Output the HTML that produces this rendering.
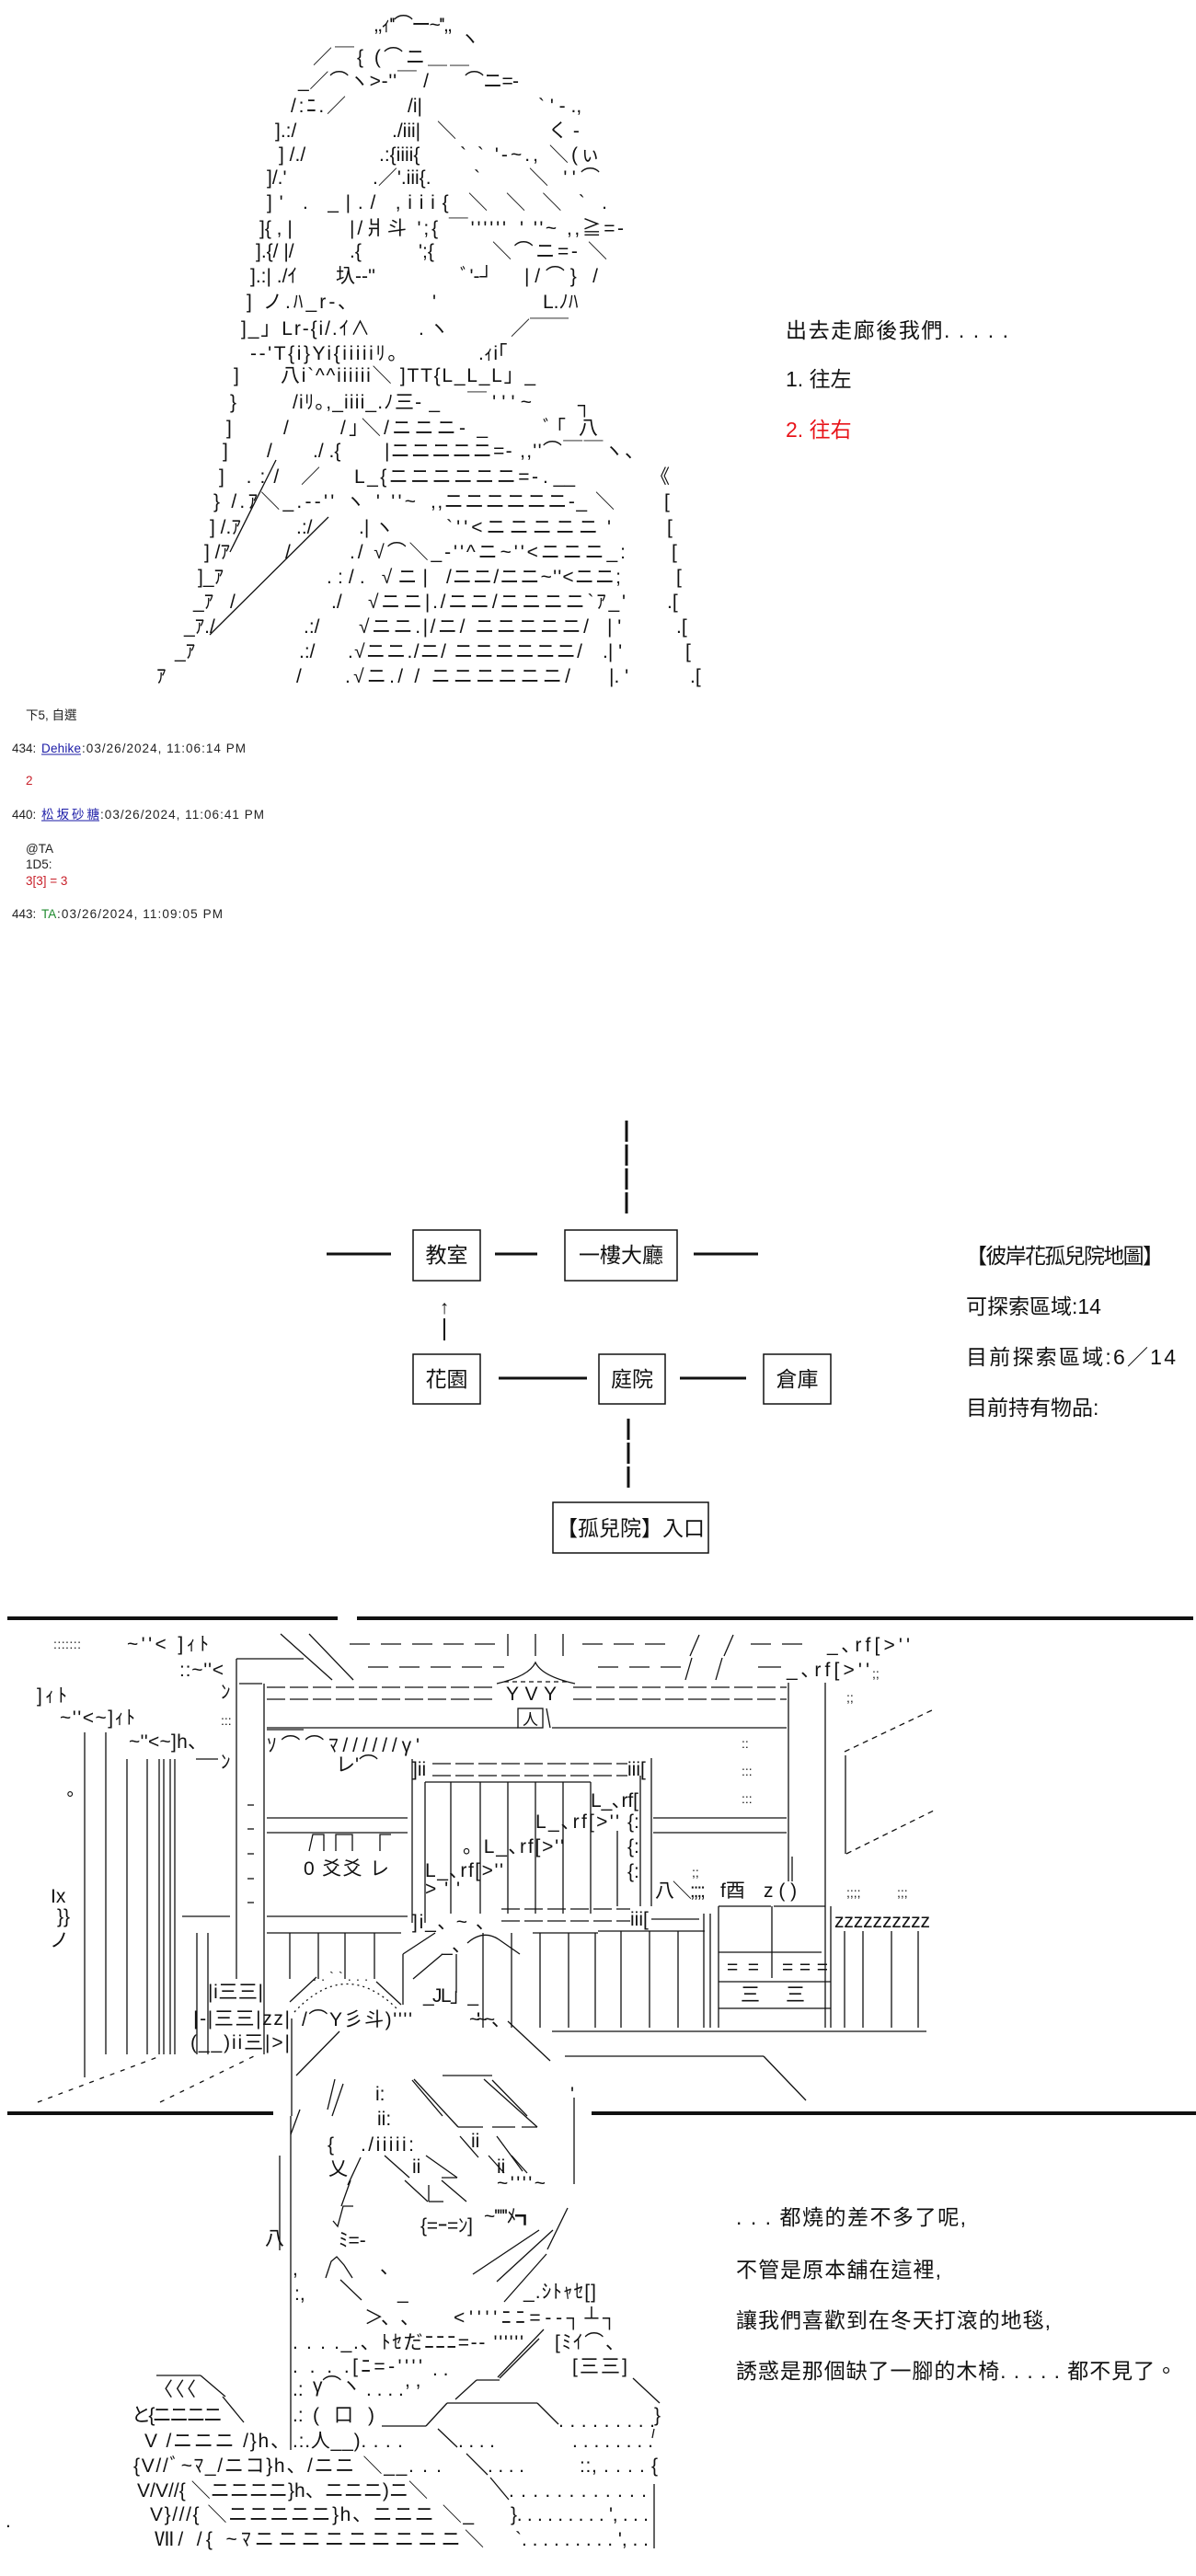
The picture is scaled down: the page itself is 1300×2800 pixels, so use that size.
<!DOCTYPE html>
<html><head><meta charset="utf-8">
<style>
html,body{margin:0;padding:0;background:#fff;}
body{width:1300px;height:2800px;position:relative;overflow:hidden;}
svg{position:absolute;left:0;top:0;}
.a{font-family:"Liberation Sans","Noto Sans CJK JP",sans-serif;font-size:21px;fill:#111;}
.s{font-family:"Liberation Sans","Noto Sans CJK JP",sans-serif;font-size:14px;fill:#111;}
.m{font-family:"Liberation Sans","Noto Sans CJK TC",sans-serif;font-size:23px;fill:#111;}
.f{font-family:"Liberation Sans","Noto Sans CJK TC",sans-serif;font-size:13.5px;fill:#222;}
.ln line,.ln polyline,.ln path,.ln rect{stroke:#111;stroke-width:1.3;fill:none;}
.dash{stroke-dasharray:20 5;}
.dot{stroke-dasharray:2 4;}
</style></head>
<body>
<svg width="1300" height="2800" viewBox="0 0 1300 2800" xmlns="http://www.w3.org/2000/svg">

<!-- ===================== SECTION 1 ART ===================== -->
<g class="a">
<text x="406" y="34" textLength="86">,,ｨ''⌒ー~'',,</text>
<text x="500" y="49">ヽ</text>
<text x="340" y="69" textLength="170">／￣{  (⌒ニ＿＿</text>
<text x="324" y="95" textLength="142">_／⌒ヽ>-''￣  /</text>
<text x="505" y="95" textLength="59">⌒ニ=-</text>
<text x="316" y="122" textLength="60">/:ﾆ.／</text>
<text x="443" y="122">/i|</text>
<text x="585" y="122">` ' ‐ .,</text>
<text x="299" y="149">].:/</text>
<text x="426" y="149">./iii|</text>
<text x="475" y="149">＼</text>
<text x="596" y="149">く   ‐</text>
<text x="303" y="175">]  /./</text>
<text x="412" y="175">.:{iiii{</text>
<text x="500" y="175" textLength="152">`    ` '‐~.,    ＼(ぃ</text>
<text x="290" y="200">]/.'</text>
<text x="405" y="200">.／'.iii{.</text>
<text x="515" y="200">`</text>
<text x="575" y="200" textLength="77">＼   ''⌒</text>
<text x="290" y="227" textLength="240">]'    .    _|./  ,iii{ ＼</text>
<text x="550" y="227" textLength="110">＼     ＼   ` .</text>
<text x="282" y="255">]{ , |</text>
<text x="380" y="255" textLength="170">|/爿斗 ';{ ￣''''''</text>
<text x="565" y="255" textLength="113">' ''~   ,,≧=-</text>
<text x="278" y="280">].{/ |/</text>
<text x="380" y="280">.{</text>
<text x="455" y="280">';{</text>
<text x="535" y="280" textLength="125">＼⌒ニ=-   ＼</text>
<text x="272" y="307">].:| ./ｲ</text>
<text x="365" y="307">圦-‐''</text>
<text x="500" y="307">ﾞ'‐┘</text>
<text x="570" y="307" textLength="80">|/⌒} /</text>
<text x="268" y="335" textLength="110">]   ノ.ﾊ_r‐､</text>
<text x="470" y="335">'</text>
<text x="590" y="335">L.ﾉﾊ</text>
<text x="262" y="364" textLength="140">]_」Lr‐{i/.ｲ∧</text>
<text x="455" y="364">.  ヽ</text>
<text x="555" y="364">／￣￣</text>
<text x="272" y="391" textLength="160">‐‐'T{i}Yi{iiiiiﾘ｡</text>
<text x="520" y="391">.ｨi｢</text>
<text x="254" y="415">]</text>
<text x="305" y="415" textLength="277">八i`^^iiiiii＼ ]TT{L_L_L」_</text>
<text x="250" y="444">}</text>
<text x="318" y="444" textLength="160">/iﾘ｡,_iiii_.ﾉ三-  _</text>
<text x="508" y="444" textLength="70">￣'''~</text>
<text x="628" y="447">┐</text>
<text x="246" y="472">]</text>
<text x="308" y="472">/</text>
<text x="370" y="472" textLength="160">/｣＼/ニニニ-  _</text>
<text x="590" y="472" textLength="60">ﾞ｢   八</text>
<text x="242" y="497">]</text>
<text x="290" y="497">/</text>
<text x="340" y="497">./ .{</text>
<text x="418" y="497" textLength="282">|ニニニニニ=-  ,,''⌒￣￣ヽ、</text>
<text x="238" y="525" textLength="110">]  .:/  ／</text>
<text x="385" y="525" textLength="200">L_{ニニニニニニ=-</text>
<text x="590" y="525">.  __</text>
<text x="707" y="525">《</text>
<text x="232" y="552" textLength="220">}  /.ｱ＼_.-‐''  ヽ ' ''~</text>
<text x="468" y="552" textLength="200">,,ニニニニニニ-_   ＼</text>
<text x="722" y="552">[</text>
<text x="228" y="580">]  /.ｱ</text>
<text x="322" y="580">.:/</text>
<text x="390" y="580">.|  ヽ</text>
<text x="485" y="580" textLength="165">`''&lt;ニニニニニ</text>
<text x="660" y="580">'</text>
<text x="725" y="580">[</text>
<text x="222" y="607">] /ｱ</text>
<text x="310" y="607">/</text>
<text x="380" y="607" textLength="300">./ √⌒＼_-''^ニ~''&lt;ニニニ_:</text>
<text x="730" y="607">[</text>
<text x="215" y="634">]_ｱ</text>
<text x="355" y="634" textLength="110">.:/. √ニ|</text>
<text x="485" y="634" textLength="190">/ニニ/ニニ~''&lt;ニニ;</text>
<text x="735" y="634">[</text>
<text x="210" y="661">_ｱ</text>
<text x="250" y="661">/</text>
<text x="360" y="661">./</text>
<text x="400" y="661" textLength="280">√ニニ|./ニニ/ニニニニ`ｱ_'</text>
<text x="725" y="661">.[</text>
<text x="200" y="688">_ｱ./</text>
<text x="330" y="688">.:/</text>
<text x="390" y="688" textLength="250">√ニニ.|/ニ/ ニニニニニ/</text>
<text x="660" y="688">| '</text>
<text x="735" y="688">.[</text>
<text x="190" y="715">_ｱ</text>
<text x="325" y="715">.:/</text>
<text x="378" y="715" textLength="255">.√ニニ./ニ/ ニニニニニニ/</text>
<text x="655" y="715">.| '</text>
<text x="745" y="715">[</text>
<text x="170" y="742">ｱ</text>
<text x="322" y="742">/</text>
<text x="375" y="742" textLength="245">.√ニ./ / ニニニニニニ/</text>
<text x="662" y="742">|.  '</text>
<text x="750" y="742">.[</text>
</g>
<g class="ln">
<line x1="357" y1="562" x2="228" y2="690"/>
<line x1="300" y1="500" x2="250" y2="600"/>
</g>

<!-- Section 1 text -->
<text class="m" x="854" y="367" textLength="242">出去走廊後我們. . . . .</text>
<text class="m" x="854" y="420">1. 往左</text>
<text class="m" x="854" y="475" style="fill:#e8141a">2. 往右</text>

<!-- Forum text -->
<text class="f" x="28" y="782">下5, 自選</text>
<text class="f" x="13" y="818">434:</text>
<text class="f" x="45" y="818" style="fill:#1a1aa6" textLength="43">Dehike</text>
<line x1="45" y1="820" x2="88" y2="820" stroke="#1a1aa6" stroke-width="1"/>
<text class="f" x="89" y="818" textLength="178">:03/26/2024, 11:06:14 PM</text>
<text class="f" x="28" y="853" style="fill:#c8202a">2</text>
<text class="f" x="13" y="890">440:</text>
<text class="f" x="45" y="890" style="fill:#1a1aa6" textLength="63">松坂砂糖</text>
<line x1="45" y1="892" x2="108" y2="892" stroke="#1a1aa6" stroke-width="1"/>
<text class="f" x="109" y="890" textLength="178">:03/26/2024, 11:06:41 PM</text>
<text class="f" x="28" y="927">@TA</text>
<text class="f" x="28" y="944">1D5:</text>
<text class="f" x="28" y="962" style="fill:#c8202a">3[3] = 3</text>
<text class="f" x="13" y="998">443:</text>
<text class="f" x="45" y="998" style="fill:#1e8a2e">TA</text>
<text class="f" x="62" y="998" textLength="180">:03/26/2024, 11:09:05 PM</text>

<!-- ===================== MAP ===================== -->
<g stroke="#111" stroke-width="3" fill="none">
<line x1="681" y1="1218" x2="681" y2="1322" stroke-dasharray="23 3"/>
<line x1="355" y1="1363" x2="425" y2="1363"/>
<line x1="538" y1="1363" x2="584" y2="1363"/>
<line x1="754" y1="1363" x2="824" y2="1363"/>
<line x1="542" y1="1498" x2="638" y2="1498"/>
<line x1="739" y1="1498" x2="811" y2="1498"/>
<line x1="683" y1="1542" x2="683" y2="1619" stroke-dasharray="23 3"/>
</g>
<line x1="483" y1="1433" x2="483" y2="1457" stroke="#111" stroke-width="2"/>
<text class="a" x="483" y="1428" text-anchor="middle">↑</text>
<g stroke="#111" stroke-width="1.5" fill="none">
<rect x="449" y="1337" width="73" height="55"/>
<rect x="614" y="1337" width="122" height="55"/>
<rect x="449" y="1472" width="73" height="54"/>
<rect x="651" y="1472" width="72" height="54"/>
<rect x="830" y="1472" width="73" height="54"/>
<rect x="601" y="1633" width="169" height="55"/>
</g>
<g class="m" text-anchor="middle">
<text x="485.5" y="1372">教室</text>
<text x="675" y="1372">一樓大廳</text>
<text x="485.5" y="1507">花園</text>
<text x="687" y="1507">庭院</text>
<text x="866.5" y="1507">倉庫</text>
<text x="685.5" y="1669">【孤兒院】入口</text>
</g>
<text class="m" x="1050" y="1373" textLength="215">【彼岸花孤兒院地圖】</text>
<text class="m" x="1050" y="1428">可探索區域:14</text>
<text class="m" x="1050" y="1483" textLength="228">目前探索區域:6／14</text>
<text class="m" x="1050" y="1538">目前持有物品:</text>

<!-- ===================== SECTION 3 ===================== -->
<g fill="#111">
<rect x="8" y="1757" width="359" height="4"/>
<rect x="388" y="1757" width="909" height="4"/>
<rect x="8" y="2295" width="289" height="4"/>
<rect x="643" y="2295" width="657" height="4"/>
</g>
<g class="ln">
<line x1="305" y1="1776" x2="361" y2="1826"/>
<line x1="336" y1="1776" x2="384" y2="1826"/>
<line x1="380" y1="1787" x2="547" y2="1787" stroke-dasharray="22 12"/>
<line x1="552" y1="1776" x2="552" y2="1800"/>
<line x1="582" y1="1776" x2="582" y2="1800"/>
<line x1="612" y1="1776" x2="612" y2="1800"/>
<line x1="633" y1="1787" x2="735" y2="1787" stroke-dasharray="22 12"/>
<line x1="760" y1="1777" x2="750" y2="1800"/>
<line x1="797" y1="1777" x2="787" y2="1800"/>
<line x1="816" y1="1787" x2="882" y2="1787" stroke-dasharray="22 12"/>
<line x1="400" y1="1812" x2="548" y2="1812" stroke-dasharray="22 12"/>
<line x1="650" y1="1812" x2="745" y2="1812" stroke-dasharray="22 12"/>
<line x1="752" y1="1802" x2="745" y2="1826"/>
<line x1="785" y1="1802" x2="778" y2="1826"/>
<line x1="824" y1="1812" x2="849" y2="1812"/>
<path d="M540 1830 Q575 1822 582 1807 Q589 1822 625 1830"/>
<line x1="548" y1="1828" x2="620" y2="1828" stroke-dasharray="5 4"/>
<line x1="257" y1="1803" x2="330" y2="1803"/>
<line x1="257" y1="1803" x2="257" y2="2151"/>
<line x1="287" y1="1830" x2="287" y2="2233"/>
<line x1="260" y1="1830" x2="285" y2="1830"/>
<line x1="290" y1="1834" x2="535" y2="1834" class="dash"/>
<line x1="290" y1="1847" x2="535" y2="1847" class="dash"/>
<line x1="623" y1="1834" x2="855" y2="1834" class="dash"/>
<line x1="623" y1="1847" x2="855" y2="1847" class="dash"/>
<line x1="290" y1="1878" x2="563" y2="1878"/>
<line x1="600" y1="1878" x2="855" y2="1878"/>
<rect x="563" y="1857" width="27" height="21"/>
<line x1="594" y1="1857" x2="598" y2="1878"/>
<line x1="92" y1="1883" x2="92" y2="2258"/>
<line x1="115" y1="1883" x2="115" y2="2233"/>
<line x1="138" y1="1912" x2="138" y2="2233"/>
<line x1="160" y1="1912" x2="160" y2="2233"/>
<line x1="173" y1="1912" x2="173" y2="2233"/>
<line x1="178" y1="1912" x2="178" y2="2233"/>
<line x1="185" y1="1912" x2="185" y2="2233"/>
<line x1="190" y1="1912" x2="190" y2="2233"/>
<line x1="213" y1="1912" x2="237" y2="1912"/>
<line x1="198" y1="2083" x2="250" y2="2083"/>
<line x1="214" y1="2101" x2="214" y2="2233"/>
<line x1="226" y1="2101" x2="226" y2="2233"/>
<line x1="269" y1="1962" x2="276" y2="1962"/>
<line x1="269" y1="1988" x2="276" y2="1988"/>
<line x1="269" y1="2015" x2="276" y2="2015"/>
<line x1="269" y1="2042" x2="276" y2="2042"/>
<line x1="269" y1="2068" x2="276" y2="2068"/>
<line x1="290" y1="1880" x2="330" y2="1880"/>
<line x1="290" y1="1976" x2="443" y2="1976"/>
<line x1="290" y1="1992" x2="443" y2="1992"/>
<line x1="290" y1="2083" x2="443" y2="2083"/>
<line x1="290" y1="2101" x2="436" y2="2101"/>
<line x1="315" y1="2101" x2="315" y2="2151"/>
<line x1="346" y1="2101" x2="346" y2="2151"/>
<line x1="375" y1="2101" x2="375" y2="2151"/>
<line x1="407" y1="2101" x2="407" y2="2151"/>
<polyline points="336,2012 340,1994 352,1994 352,2012"/>
<polyline points="365,2012 365,1994 383,1994 383,2012"/>
<polyline points="413,2012 413,1994 425,1994"/>
<line x1="448" y1="1912" x2="448" y2="2090"/>
<line x1="462" y1="1937" x2="462" y2="2090"/>
<line x1="470" y1="1917" x2="682" y2="1917" class="dash"/>
<line x1="470" y1="1930" x2="682" y2="1930" class="dash"/>
<line x1="462" y1="1937" x2="642" y2="1937"/>
<line x1="490" y1="1937" x2="490" y2="2080"/>
<line x1="522" y1="1937" x2="522" y2="2080"/>
<line x1="552" y1="1937" x2="552" y2="2080"/>
<line x1="582" y1="1937" x2="582" y2="2080"/>
<line x1="612" y1="1937" x2="612" y2="2080"/>
<line x1="642" y1="1937" x2="642" y2="2080"/>
<line x1="671" y1="1990" x2="671" y2="2072"/>
<line x1="696" y1="1930" x2="696" y2="2072"/>
<line x1="708" y1="1911" x2="708" y2="2072"/>
<line x1="710" y1="1976" x2="855" y2="1976"/>
<line x1="710" y1="1992" x2="855" y2="1992"/>
<line x1="545" y1="2075" x2="685" y2="2075" class="dash"/>
<line x1="545" y1="2088" x2="685" y2="2088" class="dash"/>
<line x1="857" y1="1829" x2="857" y2="2045"/>
<line x1="861" y1="2018" x2="861" y2="2045"/>
<line x1="897" y1="1829" x2="897" y2="2204"/>
<line x1="903" y1="2072" x2="903" y2="2204"/>
<line x1="919" y1="1908" x2="919" y2="2015"/>
<line x1="918" y1="1904" x2="1015" y2="1858" stroke-dasharray="6 5"/>
<line x1="920" y1="2015" x2="1017" y2="1967" stroke-dasharray="6 5"/>
<line x1="708" y1="2086" x2="760" y2="2086"/>
<line x1="765" y1="2080" x2="765" y2="2204"/>
<line x1="772" y1="2080" x2="772" y2="2204"/>
<line x1="781" y1="2072" x2="781" y2="2204"/>
<line x1="781" y1="2072" x2="838" y2="2072"/>
<line x1="841" y1="2072" x2="897" y2="2072"/>
<line x1="839" y1="2072" x2="839" y2="2150"/>
<line x1="781" y1="2122" x2="893" y2="2122"/>
<line x1="781" y1="2154" x2="903" y2="2154"/>
<line x1="781" y1="2183" x2="903" y2="2183"/>
<line x1="650" y1="2099" x2="766" y2="2099"/>
<line x1="675" y1="2099" x2="675" y2="2204"/>
<line x1="706" y1="2099" x2="706" y2="2204"/>
<line x1="737" y1="2099" x2="737" y2="2204"/>
<line x1="918" y1="2099" x2="918" y2="2204"/>
<line x1="938" y1="2099" x2="938" y2="2204"/>
<line x1="969" y1="2099" x2="969" y2="2204"/>
<line x1="998" y1="2099" x2="998" y2="2204"/>
<line x1="579" y1="2101" x2="650" y2="2101"/>
<line x1="496" y1="2124" x2="496" y2="2166"/>
<line x1="525" y1="2101" x2="525" y2="2204"/>
<line x1="556" y1="2101" x2="556" y2="2204"/>
<line x1="587" y1="2101" x2="587" y2="2204"/>
<line x1="618" y1="2101" x2="618" y2="2204"/>
<line x1="647" y1="2101" x2="647" y2="2204"/>
<line x1="600" y1="2208" x2="1007" y2="2208"/>
<line x1="614" y1="2235" x2="830" y2="2235"/>
<line x1="830" y1="2235" x2="876" y2="2283"/>
<line x1="473" y1="2101" x2="438" y2="2124"/>
<line x1="438" y1="2124" x2="438" y2="2179"/>
<line x1="481" y1="2124" x2="449" y2="2151"/>
<path d="M508 2112 Q525 2097 542 2108 L565 2124"/>
<path d="M320 2187 Q375 2128 431 2183" class="dot"/>
<line x1="344" y1="2149" x2="315" y2="2176"/>
<line x1="409" y1="2154" x2="436" y2="2179"/>
<line x1="317" y1="2194" x2="317" y2="2300"/>
<line x1="369" y1="2208" x2="322" y2="2256"/>
<line x1="552" y1="2197" x2="598" y2="2240"/>
<line x1="481" y1="2256" x2="535" y2="2256"/>
<line x1="448" y1="2261" x2="481" y2="2300"/>
<line x1="535" y1="2261" x2="573" y2="2300"/>
<line x1="373" y1="2265" x2="361" y2="2300"/>
<line x1="41" y1="2285" x2="174" y2="2235" stroke-dasharray="5 7"/>
<line x1="174" y1="2285" x2="276" y2="2235" stroke-dasharray="5 7"/>
</g>
<g class="a">
<text class="s" x="58" y="1792" textLength="30">:::::::</text>
<text x="138" y="1794" textLength="89">~''&lt;  ]ｨﾄ</text>
<text x="195" y="1822" textLength="48">::~''&lt;</text>
<text x="40" y="1850" textLength="33">]ｨﾄ</text>
<text x="65" y="1874" textLength="82">~''&lt;~]ｨﾄ</text>
<text x="140" y="1900" textLength="85">~''&lt;~]h、</text>
<text x="240" y="1846">ﾝ</text>
<text class="s" x="240" y="1875">:::</text>
<text x="240" y="1922">ﾝ</text>
<text x="72" y="1962">°</text>
<text x="55" y="2068">Ix</text>
<text x="62" y="2090">}}</text>
<text x="54" y="2116">ノ</text>
<text x="550" y="1848" textLength="55">YVY</text>
<text x="568" y="1875" style="font-size:17px">人</text>
<text x="290" y="1904" textLength="166">ｿ⌒⌒ﾏ//////γ'</text>
<text x="365" y="1925">レ'⌒</text>
<text x="330" y="2038" textLength="93">0 爻爻 レ</text>
<text x="448" y="1930">]ii</text>
<text x="682" y="1930">iii[</text>
<text x="642" y="1964" textLength="52">L_､rf[</text>
<text x="582" y="1987" textLength="91">L_､rf[>''</text>
<text x="682" y="1987">{:</text>
<text x="682" y="2014">{:</text>
<text x="682" y="2041">{:</text>
<text x="503" y="2014" textLength="110">。L_､rf[>''</text>
<text x="462" y="2040" textLength="85">L_､rf[>''</text>
<text x="462" y="2060" textLength="38">>''</text>
<text x="899" y="1795" textLength="90">_､rf[>''</text>
<text x="855" y="1822" textLength="90">_､rf[>''</text>
<text class="s" x="948" y="1824">;;</text>
<text class="s" x="920" y="1850">;;</text>
<text class="s" x="806" y="1900">::</text>
<text class="s" x="806" y="1930">:::</text>
<text class="s" x="806" y="1960">:::</text>
<text x="448" y="2096" textLength="80">]i_､ ~  ､</text>
<text x="685" y="2093">iii[</text>
<text class="s" x="752" y="2040">;;</text>
<text x="712" y="2062" textLength="55">八＼;;;;</text>
<text x="783" y="2062">f酉</text>
<text x="830" y="2062">z ( )</text>
<text class="s" x="920" y="2062">;;;;</text>
<text class="s" x="975" y="2062">;;;</text>
<text x="907" y="2095" textLength="104">zzzzzzzzzz</text>
<text x="790" y="2145" textLength="35">= =</text>
<text x="850" y="2145" textLength="50">= = =</text>
<text x="805" y="2175" textLength="70">三   三</text>
<text x="480" y="2121">_､</text>
<text x="460" y="2176" textLength="60">_JL」_</text>
<text x="226" y="2172" textLength="60">|i三三|</text>
<text x="210" y="2201" textLength="105">|-|三三|zz|</text>
<text x="207" y="2227" textLength="108">(__)ii三|>|</text>
<text x="328" y="2202" textLength="120">/⌒Y彡斗)''''</text>
<text x="510" y="2202" textLength="45">~''~~、</text>
<text x="340" y="2153" textLength="60" class="s">. . ` ` . . .</text>
<text x="408" y="2283">i:</text>
<text x="620" y="2283">'</text>
</g>

<!-- ===================== SECTION 4 ===================== -->
<g class="ln">
<line x1="316" y1="2300" x2="316" y2="2663"/>
<line x1="304" y1="2343" x2="304" y2="2446"/>
<line x1="364" y1="2260" x2="356" y2="2293"/>
<line x1="326" y1="2293" x2="316" y2="2320"/>
<line x1="450" y1="2260" x2="498" y2="2312"/>
<line x1="526" y1="2260" x2="584" y2="2312"/>
<line x1="498" y1="2312" x2="525" y2="2312"/>
<line x1="535" y1="2312" x2="560" y2="2312"/>
<line x1="567" y1="2312" x2="584" y2="2312"/>
<line x1="624" y1="2280" x2="624" y2="2374"/>
<line x1="500" y1="2322" x2="520" y2="2345"/>
<line x1="540" y1="2322" x2="568" y2="2360"/>
<line x1="392" y1="2345" x2="378" y2="2375"/>
<line x1="418" y1="2343" x2="445" y2="2367"/>
<line x1="463" y1="2343" x2="497" y2="2367"/>
<line x1="480" y1="2367" x2="497" y2="2367"/>
<line x1="531" y1="2343" x2="548" y2="2362"/>
<line x1="556" y1="2343" x2="573" y2="2362"/>
<line x1="381" y1="2370" x2="371" y2="2398"/>
<line x1="440" y1="2370" x2="465" y2="2393"/>
<line x1="466" y1="2375" x2="466" y2="2393"/>
<line x1="466" y1="2393" x2="482" y2="2393"/>
<line x1="480" y1="2370" x2="507" y2="2393"/>
<polyline points="362,2414 367,2420 373,2398 384,2398"/>
<line x1="586" y1="2424" x2="514" y2="2472"/>
<line x1="601" y1="2424" x2="540" y2="2480"/>
<line x1="617" y1="2400" x2="595" y2="2445"/>
<line x1="594" y1="2450" x2="548" y2="2502"/>
<path d="M354 2476 L360 2458 L366 2453 L374 2462 L383 2476"/>
<line x1="370" y1="2478" x2="393" y2="2500"/>
<line x1="591" y1="2532" x2="541" y2="2584"/>
<line x1="170" y1="2582" x2="218" y2="2582"/>
<line x1="218" y1="2582" x2="245" y2="2605"/>
<line x1="242" y1="2605" x2="265" y2="2633"/>
<line x1="543" y1="2585" x2="586" y2="2542"/>
<line x1="495" y1="2608" x2="518" y2="2587"/>
<line x1="518" y1="2587" x2="543" y2="2587"/>
<line x1="415" y1="2637" x2="463" y2="2637"/>
<line x1="463" y1="2637" x2="486" y2="2612"/>
<line x1="486" y1="2612" x2="584" y2="2612"/>
<line x1="584" y1="2612" x2="607" y2="2635"/>
<line x1="688" y1="2585" x2="717" y2="2612"/>
<line x1="476" y1="2640" x2="497" y2="2660"/>
<line x1="507" y1="2667" x2="530" y2="2690"/>
<line x1="533" y1="2693" x2="553" y2="2717"/>
<line x1="711" y1="2700" x2="711" y2="2770"/>
<line x1="711" y1="2640" x2="709" y2="2650"/>
</g>
<g class="a">
<text x="288" y="2440">八</text>
<text x="410" y="2310">ii:</text>
<text x="356" y="2338">{</text>
<text x="392" y="2338" textLength="58">./iiiii:</text>
<text x="512" y="2334">ii</text>
<text x="357" y="2364">乂</text>
<text x="448" y="2362">ii</text>
<text x="540" y="2362">ii</text>
<text x="540" y="2380" textLength="53">~''''~</text>
<text x="368" y="2442">ﾐ=-</text>
<text x="457" y="2426" textLength="57">{=ｰ=ﾝ]</text>
<text x="526" y="2416" textLength="55">~'''''ﾒ┓</text>
<text x="318" y="2473">,</text>
<text x="413" y="2471">、</text>
<text x="320" y="2500">:,</text>
<text x="432" y="2499">_</text>
<text x="569" y="2498" textLength="79">_.ｼﾄｬｾ[]</text>
<text x="396" y="2526" textLength="60">＞、 、</text>
<text x="493" y="2526" textLength="177">&lt;''''ﾆﾆ=--┐┴┐</text>
<text x="318" y="2553" textLength="251">. . . ._.、ﾄｾだﾆﾆﾆ=-- ''''''</text>
<text x="603" y="2553" textLength="76">[ﾐｲ⌒、</text>
<text x="318" y="2579" textLength="141">. . . .[ﾆ=-''''</text>
<text x="470" y="2582">. .</text>
<text x="622" y="2579" textLength="60">[三三]</text>
<text x="167" y="2604" textLength="46">〈〈〈</text>
<text x="318" y="2604">.:</text>
<text x="340" y="2600" textLength="52">γ⌒ヽ</text>
<text x="398" y="2604">. . . .</text>
<text x="440" y="2594">, ,</text>
<text x="143" y="2632" textLength="99">と{ニニニニ</text>
<text x="318" y="2632">.:</text>
<text x="340" y="2632" textLength="67">(口)</text>
<text x="607" y="2638" textLength="105">. . . . . . . . .</text>
<text x="711" y="2632">}</text>
<text x="157" y="2660" textLength="158">V /ニニニ /}h、</text>
<text x="318" y="2660" textLength="120">.:.人__). . . .</text>
<text x="498" y="2660" textLength="40">. . . .</text>
<text x="622" y="2660" textLength="88">. . . . . . . .</text>
<text x="145" y="2687" textLength="335">{V//ﾞ~ﾏ_/ニコ}h、/ニニ ＼__. . .</text>
<text x="530" y="2687" textLength="40">. . . .</text>
<text x="630" y="2687" textLength="85">::, . . . .   {</text>
<text x="149" y="2714" textLength="316">V/V//{ ＼ニニニニ}h、ニニニ)ニ＼</text>
<text x="553" y="2714" textLength="150">. . .   . . . . .   . . . .</text>
<text x="163" y="2740" textLength="352">V}///{  ＼ニニニニニ}h、ニニニ ＼_</text>
<text x="555" y="2740" textLength="150">}. . . . .   . . . . ', . . .</text>
<text x="168" y="2767" textLength="358">Ⅶ/ /{   ~ﾏニニニニニニニニニ＼</text>
<text x="560" y="2767" textLength="145">`. . . . . .   . . .   ', . .</text>
<text x="6" y="2747">.</text>
</g>

<!-- Section 4 text -->
<text class="m" x="800" y="2418" textLength="250">. . . 都燒的差不多了呢,</text>
<text class="m" x="800" y="2475" textLength="223">不管是原本舖在這裡,</text>
<text class="m" x="800" y="2530" textLength="342">讓我們喜歡到在冬天打滾的地毯,</text>
<text class="m" x="800" y="2585" textLength="479">誘惑是那個缺了一腳的木椅. . . . . 都不見了。</text>

</svg>
</body></html>
